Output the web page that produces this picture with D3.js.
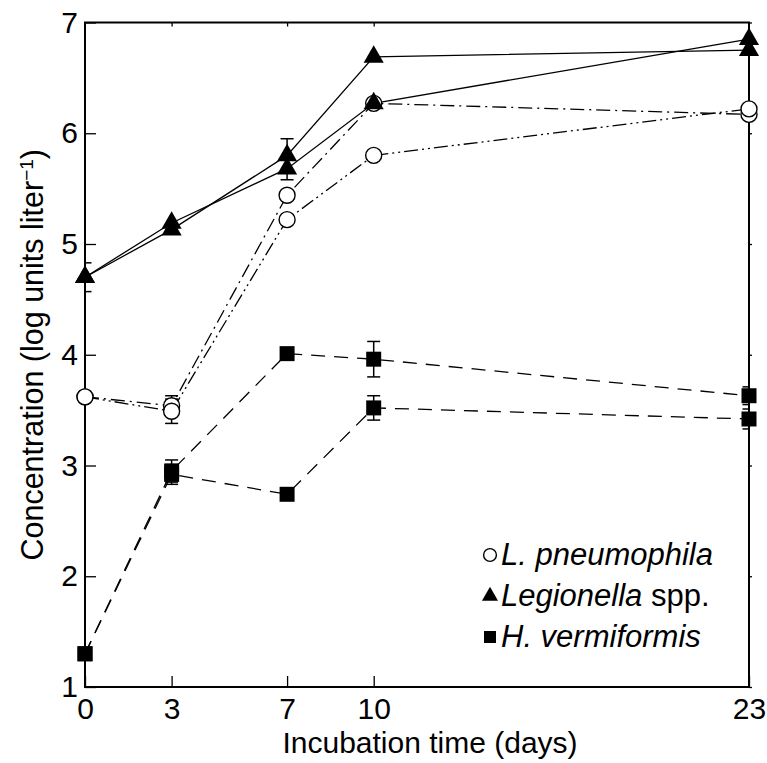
<!DOCTYPE html>
<html>
<head>
<meta charset="utf-8">
<script src="https://cdn.jsdelivr.net/npm/d3@7"></script>
<style>
  body { margin: 0; background: #fff; }
  svg { font-family: "Liberation Sans", Arial, sans-serif; }
</style>
</head>
<body>
<svg id="chart" width="767" height="763"></svg>
<script>
// 数据
const days = [0, 3, 7, 10, 23];
const yTicks = [1, 2, 3, 4, 5, 6, 7];

// L. pneumophila（两组重复）
const lpneumo1 = [3.62, 3.54, 5.44, 6.27, 6.17];
const lpneumo1Err = [0, 0.09, 0, 0, 0];
const lpneumo2 = [3.62, 3.49, 5.22, 5.80, 6.22];
const lpneumo2Err = [0, 0.11, 0, 0, 0];

// Legionella spp.
const legio1 = [4.70, 5.13, 5.80, 6.69, 6.75];
const legio1Err = [0.13, 0, 0.15, 0, 0];
const legio2 = [4.70, 5.19, 5.68, 6.27, 6.85];
const legio2Err = [0, 0, 0.10, 0, 0];

// H. vermiformis
const hverm1 = [1.30, 2.95, 4.01, 3.96, 3.63];
const hverm1Err = [0, 0.10, 0, 0.16, 0.08];
const hverm2 = [1.30, 2.92, 2.74, 3.52, 3.42];
const hverm2Err = [0, 0.09, 0, 0.11, 0.09];

const svg = d3.select("#chart");
const plotLeft = 85, plotRight = 749, plotTop = 22.5, plotBottom = 687;

const x = d3.scaleLinear().domain([0, 23]).range([plotLeft, plotRight]);
const y = d3.scaleLinear().domain([1, 7]).range([plotBottom, plotTop]);

// 剪裁区域（误差线不画出坐标框）
svg.append("defs").append("clipPath").attr("id", "plotClip")
    .append("rect")
    .attr("x", plotLeft).attr("y", plotTop)
    .attr("width", plotRight - plotLeft).attr("height", plotBottom - plotTop);

// 坐标轴（刻度朝内）
const xAxis = svg.append("g")
    .attr("transform", `translate(0,${plotBottom})`)
    .call(d3.axisBottom(x).tickValues(days).tickFormat(d3.format("d"))
        .tickSizeInner(-11).tickSizeOuter(0).tickPadding(11));
const yAxis = svg.append("g")
    .attr("transform", `translate(${plotLeft},0)`)
    .call(d3.axisLeft(y).tickValues(yTicks).tickFormat(d3.format("d"))
        .tickSizeInner(-11).tickSizeOuter(0).tickPadding(7));
const topAxis = svg.append("g")
    .attr("transform", `translate(0,${plotTop})`)
    .call(d3.axisTop(x).tickValues([3, 7, 10]).tickSizeInner(-4).tickSizeOuter(0).tickFormat(""));
const rightAxis = svg.append("g")
    .attr("transform", `translate(${plotRight},0)`)
    .call(d3.axisRight(y).tickValues(yTicks).tickSizeInner(3).tickSizeOuter(0).tickFormat(""));

[xAxis, yAxis, topAxis, rightAxis].forEach(g => {
    g.select(".domain").remove();
    g.selectAll("line").attr("stroke", "#000").attr("stroke-width", 1.3);
    g.selectAll("text").attr("fill", "#000").style("font-size", "30px").style("font-family", "Liberation Sans, Arial, sans-serif");
});

// 外框
svg.append("rect")
    .attr("x", plotLeft).attr("y", plotTop)
    .attr("width", plotRight - plotLeft).attr("height", plotBottom - plotTop)
    .attr("fill", "none").attr("stroke", "#000").attr("stroke-width", 2);

// 轴标题
svg.append("text")
    .attr("x", 430).attr("y", 753)
    .attr("text-anchor", "middle")
    .style("font-size", "30px")
    .text("Incubation time (days)");

const yTitle = svg.append("text")
    .attr("transform", `translate(43,${(plotTop + plotBottom) / 2}) rotate(-90)`)
    .attr("text-anchor", "middle")
    .style("font-size", "30.5px");
yTitle.append("tspan").text("Concentration (log units liter");
yTitle.append("tspan").attr("dy", "-0.55em").style("font-size", "19px").text("\u22121");
yTitle.append("tspan").attr("dy", "0.35em").text(")");

// 系列定义
const series = [
    { vals: lpneumo1, err: lpneumo1Err, dash: "14,5,2,5", marker: "circle" },
    { vals: lpneumo2, err: lpneumo2Err, dash: "14,4,2,4,2,4", marker: "circle" },
    { vals: legio1, err: legio1Err, dash: null, marker: "triangle" },
    { vals: legio2, err: legio2Err, dash: null, marker: "triangle" },
    { vals: hverm1, err: hverm1Err, dash: "14,9", marker: "square" },
    { vals: hverm2, err: hverm2Err, dash: "14,9", marker: "square" }
];

const line = d3.line()
    .x(d => x(d[0]))
    .y(d => y(d[1]));

// 连线
series.forEach(s => {
    const pts = days.map((d, i) => [d, s.vals[i]]);
    svg.append("path")
        .attr("d", line(pts))
        .attr("fill", "none")
        .attr("stroke", "#000")
        .attr("stroke-width", 1.3)
        .attr("stroke-dasharray", s.dash);
});

// 误差线
const errG = svg.append("g").attr("clip-path", "url(#plotClip)");
series.forEach(s => {
    days.forEach((d, i) => {
        const e = s.err[i];
        if (!e) return;
        const cx = x(d), y1 = y(s.vals[i] + e), y2 = y(s.vals[i] - e);
        errG.append("line").attr("x1", cx).attr("x2", cx).attr("y1", y1).attr("y2", y2)
            .attr("stroke", "#000").attr("stroke-width", 1.5);
        [y1, y2].forEach(yy => {
            errG.append("line").attr("x1", cx - 6.5).attr("x2", cx + 6.5).attr("y1", yy).attr("y2", yy)
                .attr("stroke", "#000").attr("stroke-width", 1.5);
        });
    });
});

// 标记
const triPath = d3.symbol().type(d3.symbolTriangle).size(175)();
const sqPath = d3.symbol().type(d3.symbolSquare).size(225)();

function drawMarker(g, type, cx, cy, scale) {
    scale = scale || 1;
    if (type === "circle") {
        g.append("circle").attr("cx", cx).attr("cy", cy).attr("r", 8 * scale)
            .attr("fill", "#fff").attr("stroke", "#000").attr("stroke-width", 1.4);
    } else {
        g.append("path")
            .attr("d", type === "triangle" ? triPath : sqPath)
            .attr("transform", `translate(${cx},${cy}) scale(${scale})`)
            .attr("fill", "#000");
    }
}

const markG = svg.append("g");
["circle", "triangle", "square"].forEach(type => {
    series.filter(s => s.marker === type).forEach(s => {
        days.forEach((d, i) => drawMarker(markG, type, x(d), y(s.vals[i])));
    });
});

// 图例
const legendItems = [
    { marker: "circle", parts: [["L. pneumophila", true]] },
    { marker: "triangle", parts: [["Legionella", true], [" spp.", false]] },
    { marker: "square", parts: [["H. vermiformis", true]] }
];
const legendG = svg.append("g");
legendItems.forEach((item, k) => {
    const cy = 555 + k * 41;
    drawMarker(legendG, item.marker, 490, cy, 0.8);
    const t = legendG.append("text")
        .attr("x", 501).attr("y", cy + 10)
        .style("font-size", "31px");
    item.parts.forEach(p => {
        t.append("tspan").style("font-style", p[1] ? "italic" : "normal").text(p[0]);
    });
});
</script>
</body>
</html>
